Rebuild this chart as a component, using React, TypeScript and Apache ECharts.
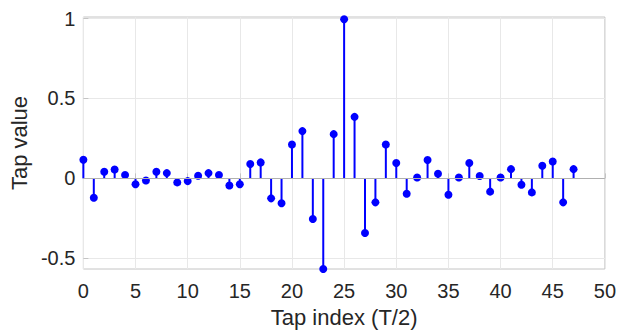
import React, { useEffect, useRef } from "react";
import * as echarts from "echarts";

const tapIndex: number[] = Array.from({ length: 48 }, (_, i) => i);
const tapValues: number[] = [
  0.117, -0.121, 0.042, 0.056, 0.021, -0.037, -0.013, 0.042, 0.033, -0.025,
  -0.017, 0.017, 0.033, 0.021, -0.044, -0.037, 0.09, 0.1, -0.125, -0.156,
  0.2125, 0.296, -0.254, -0.567, 0.277, 0.996, 0.385, -0.342, -0.15, 0.2125,
  0.096, -0.096, 0.006, 0.115, 0.029, -0.102, 0.006, 0.096, 0.015, -0.083,
  0.006, 0.058, -0.04, -0.0875, 0.079, 0.106, -0.15, 0.058,
];
const yTicks: number[] = [-0.5, 0, 0.5, 1];

export default function App() {
  const ref = useRef<HTMLDivElement>(null);
  useEffect(() => {
    if (!ref.current) return;
    const chart = echarts.init(ref.current, undefined, { renderer: "svg" });
    const pts = tapIndex.map((x, i) => [x, tapValues[i]]);
    const font = "Liberation Sans, Arial, sans-serif";
    chart.setOption({
      animation: false,
      backgroundColor: "#ffffff",
      grid: {
        left: 80,
        right: 11,
        top: 17,
        bottom: 63,
        show: true,
        borderColor: "#c4c4c4",
        borderWidth: 1,
      },
      xAxis: {
        type: "value",
        min: 0,
        max: 50,
        interval: 5,
        name: "Tap index (T/2)",
        nameLocation: "middle",
        nameGap: 37,
        nameTextStyle: { fontSize: 22, color: "#262626", fontFamily: font },
        axisLine: { show: false },
        axisTick: { show: true, inside: true, length: 5, lineStyle: { color: "#c4c4c4" } },
        axisLabel: { fontSize: 20, color: "#262626", fontFamily: font, margin: 12 },
        splitLine: { show: true, lineStyle: { color: "#e8e8e8", width: 1 } },
      },
      yAxis: {
        type: "value",
        min: -0.567,
        max: 1.01,
        name: "Tap value",
        nameLocation: "middle",
        nameGap: 45,
        nameTextStyle: { fontSize: 22, color: "#262626", fontFamily: font },
        axisLine: { show: false },
        axisTick: {
          show: true,
          inside: true,
          length: 5,
          customValues: yTicks,
          lineStyle: { color: "#c4c4c4" },
        },
        axisLabel: {
          fontSize: 20,
          color: "#262626",
          fontFamily: font,
          margin: 8,
          customValues: yTicks,
        },
        splitLine: { show: true, lineStyle: { color: "#e8e8e8", width: 1 } },
      },
      series: [
        {
          type: "bar",
          data: pts,
          barWidth: 2,
          itemStyle: { color: "#0000ff", opacity: 1 },
          markLine: {
            silent: true,
            symbol: "none",
            label: { show: false },
            lineStyle: { color: "#b0b0b0", type: "solid", width: 1 },
            data: [{ yAxis: 0 }],
          },
          z: 3,
        },
        {
          type: "scatter",
          data: pts,
          symbol: "circle",
          symbolSize: 8,
          clip: false,
          itemStyle: { color: "#0000ff", opacity: 1 },
          z: 4,
        },
      ],
    });
    return () => chart.dispose();
  }, []);
  return (
    <div
      ref={ref}
      style={{ position: "fixed", left: 0, top: 0, width: 619, height: 333 }}
    />
  );
}
